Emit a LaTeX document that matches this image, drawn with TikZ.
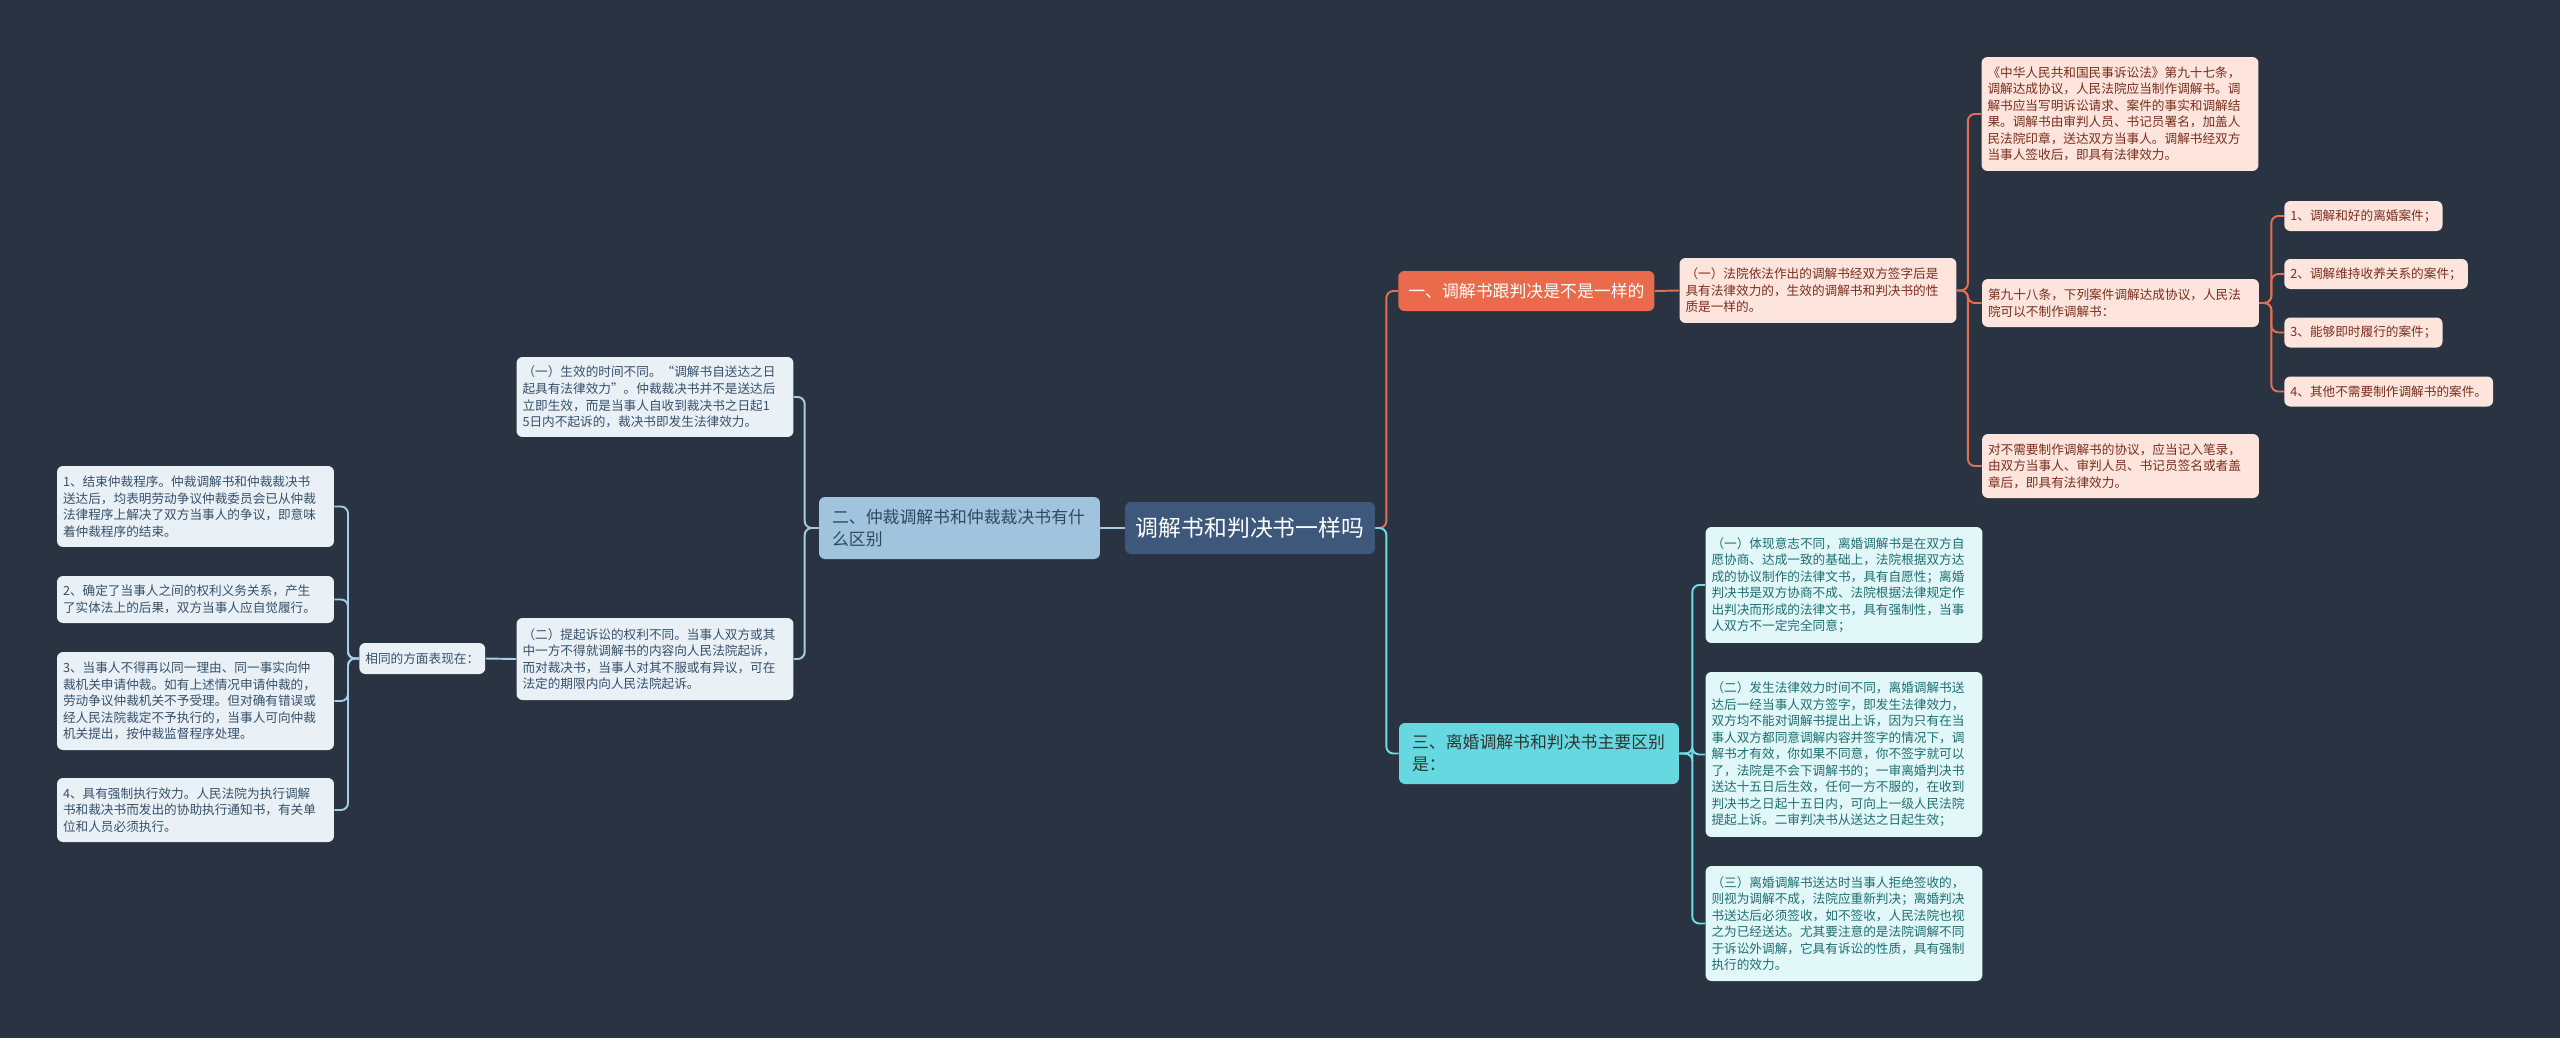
\documentclass[tikz,border=0pt]{standalone}
\usepackage{fontspec}
\setmainfont{Noto Sans CJK SC}
\usepackage{tikz}
\usetikzlibrary{positioning}

\definecolor{bg}{HTML}{2A3342}
\definecolor{topicfill}{HTML}{3E587C}
\definecolor{subB}{HTML}{A0C4DE}
\definecolor{subO}{HTML}{EA6B4C}
\definecolor{subC}{HTML}{65D8E0}
\definecolor{leafB}{HTML}{EAF1F6}
\definecolor{leafO}{HTML}{FDE4DC}
\definecolor{leafC}{HTML}{E1F7F8}
\definecolor{txtB}{HTML}{35506B}
\definecolor{txtO}{HTML}{7B2E1E}
\definecolor{txtC}{HTML}{1E6E73}
\definecolor{lineB}{HTML}{A6CDE6}
\definecolor{lineO}{HTML}{E2714F}
\definecolor{lineC}{HTML}{6FDDE5}

\tikzstyle{box}   = [rounded corners=0.12cm, inner ysep=0.06cm]
\tikzstyle{topic} = [box, fill=topicfill, text=white, minimum width=5cm, minimum height=1.04cm, font=\fontsize{13}{15}\selectfont]
\tikzstyle{sub}   = [box, align=left, inner xsep=0.26cm, font=\fontsize{9.6}{12.5}\selectfont]
\tikzstyle{leaf}  = [box, align=left, inner xsep=0.12cm, text width=5.3cm, font=\fontsize{7.2}{9.4}\selectfont]
\tikzstyle{tag}   = [box, align=left, inner xsep=0.12cm, minimum height=0.6cm, anchor=west, font=\fontsize{7.2}{9.4}\selectfont]
\tikzstyle{lnB}   = [draw=lineB, line width=1.1pt, rounded corners=0.14cm]
\tikzstyle{lnO}   = [draw=lineO, line width=1.1pt, rounded corners=0.14cm]
\tikzstyle{lnC}   = [draw=lineC, line width=1.1pt, rounded corners=0.14cm]

\begin{document}
\begin{tikzpicture}[x=0.02cm, y=-0.02cm]

\fill [bg] (0,0) rectangle (2560,1038);

% centre
\node [topic]                                                          at ( 1250  , 528   ) (topic) {调解书和判决书一样吗};

% left branch
\node [sub, fill=subB, text=txtB!90!black, text width=5.1cm, minimum height=1.24cm] at (  959.5, 528 ) (two) {二、仲裁调解书和仲裁裁决书有什\\么区别};
\node [leaf, fill=leafB, text=txtB, minimum height=1.6cm]              at (  655  , 397   ) (gz1)   {（一）生效的时间不同。“调解书自送达之日\\起具有法律效力”。仲裁裁决书并不是送达后\\立即生效，而是当事人自收到裁决书之日起1\\5日内不起诉的，裁决书即发生法律效力。};
\node [leaf, fill=leafB, text=txtB, minimum height=1.64cm]             at (  655  , 659   ) (gz2)   {（二）提起诉讼的权利不同。当事人双方或其\\中一方不得就调解书的内容向人民法院起诉，\\而对裁决书，当事人对其不服或有异议，可在\\法定的期限内向人民法院起诉。};
\node [tag, fill=leafB, text=txtB, minimum height=0.62cm]              at (  359  , 658.5 ) (same)  {相同的方面表现在：};
\node [leaf, fill=leafB, text=txtB, minimum height=1.62cm]             at (  195.5, 506.5 ) (L1)    {1、结束仲裁程序。仲裁调解书和仲裁裁决书\\送达后，均表明劳动争议仲裁委员会已从仲裁\\法律程序上解决了双方当事人的争议，即意味\\着仲裁程序的结束。};
\node [leaf, fill=leafB, text=txtB, minimum height=0.94cm]             at (  195.5, 599.5 ) (L2)    {2、确定了当事人之间的权利义务关系，产生\\了实体法上的后果，双方当事人应自觉履行。};
\node [leaf, fill=leafB, text=txtB, minimum height=1.96cm]             at (  195.5, 701   ) (L3)    {3、当事人不得再以同一理由、同一事实向仲\\裁机关申请仲裁。如有上述情况申请仲裁的，\\劳动争议仲裁机关不予受理。但对确有错误或\\经人民法院裁定不予执行的，当事人可向仲裁\\机关提出，按仲裁监督程序处理。};
\node [leaf, fill=leafB, text=txtB, minimum height=1.28cm]             at (  195.5, 810   ) (L4)    {4、具有强制执行效力。人民法院为执行调解\\书和裁决书而发出的协助执行通知书，有关单\\位和人员必须执行。};

% upper right branch
\node [sub, fill=subO, text=white, anchor=west, inner xsep=0.2cm, minimum height=0.8cm] at ( 1398 , 291 ) (one) {一、调解书跟判决是不是一样的};
\node [leaf, fill=leafO, text=txtO, minimum height=1.3cm]              at ( 1818  , 290.5 ) (A1)    {（一）法院依法作出的调解书经双方签字后是\\具有法律效力的，生效的调解书和判决书的性\\质是一样的。};
\node [leaf, fill=leafO, text=txtO, minimum height=2.28cm]             at ( 2120  , 114   ) (B1)    {《中华人民共和国民事诉讼法》第九十七条，\\调解达成协议，人民法院应当制作调解书。调\\解书应当写明诉讼请求、案件的事实和调解结\\果。调解书由审判人员、书记员署名，加盖人\\民法院印章，送达双方当事人。调解书经双方\\当事人签收后，即具有法律效力。};
\node [leaf, fill=leafO, text=txtO, minimum height=0.96cm]             at ( 2120.5, 303   ) (B2)    {第九十八条，下列案件调解达成协议，人民法\\院可以不制作调解书：};
\node [leaf, fill=leafO, text=txtO, minimum height=1.28cm]             at ( 2120.5, 466   ) (B3)    {对不需要制作调解书的协议，应当记入笔录，\\由双方当事人、审判人员、书记员签名或者盖\\章后，即具有法律效力。};
\node [tag, fill=leafO, text=txtO]                                     at ( 2284  , 216   ) (C1)    {1、调解和好的离婚案件；};
\node [tag, fill=leafO, text=txtO]                                     at ( 2284  , 274   ) (C2)    {2、调解维持收养关系的案件；};
\node [tag, fill=leafO, text=txtO]                                     at ( 2284  , 332.5 ) (C3)    {3、能够即时履行的案件；};
\node [tag, fill=leafO, text=txtO]                                     at ( 2284  , 391.5 ) (C4)    {4、其他不需要制作调解书的案件。};

% lower right branch
\node [sub, fill=subC, text=black!80, text width=5.08cm, minimum height=1.22cm] at ( 1539 , 753.5 ) (three) {三、离婚调解书和判决书主要区别\\是：};
\node [leaf, fill=leafC, text=txtC, minimum height=2.32cm]             at ( 1844  , 585   ) (D1)    {（一）体现意志不同，离婚调解书是在双方自\\愿协商、达成一致的基础上，法院根据双方达\\成的协议制作的法律文书，具有自愿性；离婚\\判决书是双方协商不成、法院根据法律规定作\\出判决而形成的法律文书，具有强制性，当事\\人双方不一定完全同意；};
\node [leaf, fill=leafC, text=txtC, minimum height=3.3cm]              at ( 1844  , 754.5 ) (D2)    {（二）发生法律效力时间不同，离婚调解书送\\达后一经当事人双方签字，即发生法律效力，\\双方均不能对调解书提出上诉，因为只有在当\\事人双方都同意调解内容并签字的情况下，调\\解书才有效，你如果不同意，你不签字就可以\\了，法院是不会下调解书的；一审离婚判决书\\送达十五日后生效，任何一方不服的，在收到\\判决书之日起十五日内，可向上一级人民法院\\提起上诉。二审判决书从送达之日起生效；};
\node [leaf, fill=leafC, text=txtC, minimum height=2.3cm]              at ( 1844  , 923.5 ) (D3)    {（三）离婚调解书送达时当事人拒绝签收的，\\则视为调解不成，法院应重新判决；离婚判决\\书送达后必须签收，如不签收，人民法院也视\\之为已经送达。尤其要注意的是法院调解不同\\于诉讼外调解，它具有诉讼的性质，具有强制\\执行的效力。};

% connectors
\draw [lnB] (topic.west) -- (two.east);
\draw [lnB] (two.west)   -- ++(-14,0) |- (gz1.east);
\draw [lnB] (two.west)   -- ++(-14,0) |- (gz2.east);
\draw [lnB] (gz2.west)   -- (same.east);
\foreach \n in {L1, L2, L3, L4}
  \draw [lnB] (same.west) -- ++(-11,0) |- (\n.east);

\draw [lnO] (topic.east) -- ++(11,0) |- (one.west);
\draw [lnO] (one.east)   -- (A1.west);
\foreach \n in {B1, B2, B3}
  \draw [lnO] (A1.east)  -- ++(11,0) |- (\n.west);
\foreach \n in {C1, C2, C3, C4}
  \draw [lnO] (B2.east)  -- ++(12,0) |- (\n.west);

\draw [lnC] (topic.east) -- ++(11,0) |- (three.west);
\foreach \n in {D1, D2, D3}
  \draw [lnC] (three.east) -- ++(13,0) |- (\n.west);

\end{tikzpicture}
\end{document}
